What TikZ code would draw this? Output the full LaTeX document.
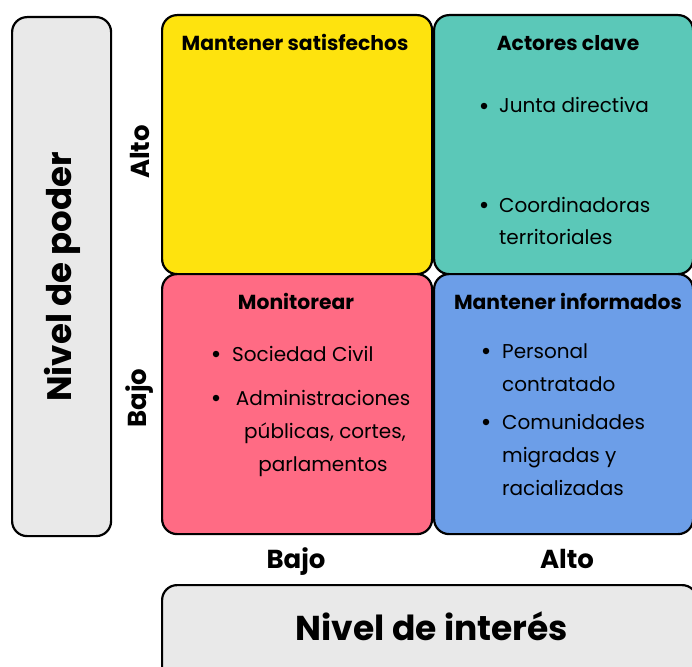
\documentclass[tikz,border=0pt]{standalone}
\usepackage{fontspec}
\setmainfont{Poppins}
\definecolor{cyellow}{HTML}{FEE30E}
\definecolor{cteal}{HTML}{5BC8B8}
\definecolor{cpink}{HTML}{FF6B84}
\definecolor{cblue}{HTML}{6C9EE8}
\definecolor{cgray}{HTML}{E9E9E9}
\begin{document}
\begin{tikzpicture}[x=1pt,y=-1pt,
  quad/.style={draw=black, line width=2.2pt, rounded corners=15pt, anchor=north west, inner sep=0pt},
  head/.style={font=\bfseries\fontsize{20.3}{24}\selectfont, anchor=base, inner sep=0pt},
  axis/.style={font=\bfseries\fontsize{26}{30}\selectfont, inner sep=0pt},
  item/.style={font=\fontsize{20}{24}\selectfont, anchor=base west, inner sep=0pt},
  citem/.style={font=\fontsize{20}{24}\selectfont, anchor=base, inner sep=0pt},
  dot/.style={circle, fill=black, inner sep=0pt, minimum size=6.5pt}]
\useasboundingbox (0,0) rectangle (692,666);
\clip (0,0) rectangle (692,666);
% boxes
\node[quad, fill=cgray, minimum width=99pt, minimum height=519pt] (leftbox) at (11,16) {};
\node[quad, fill=cgray, minimum width=535pt, minimum height=100pt] (bottombox) at (161,584) {};
\node[quad, fill=cyellow, minimum width=270pt, minimum height=259pt] (yellow) at (161,14) {};
\node[quad, fill=cteal, minimum width=259pt, minimum height=259pt] (teal) at (433,14) {};
\node[quad, fill=cpink, minimum width=270pt, minimum height=260pt] (pink) at (161,273) {};
\node[quad, fill=cblue, minimum width=259pt, minimum height=260pt] (blue) at (433,273) {};
% axis labels
\node[font=\bfseries\fontsize{34}{38}\selectfont, rotate=90, inner sep=0pt] (poder) at (62,277) {Nivel de poder};
\node[font=\bfseries\fontsize{34.5}{38}\selectfont, anchor=base, inner sep=0pt] (interes) at (432,640) {Nivel de interés};
\node[axis, rotate=90] (altoy) at (140,152) {Alto};
\node[axis, rotate=90] (bajoy) at (140,398) {Bajo};
\node[axis, anchor=base] (bajox) at (296,568) {Bajo};
\node[axis, anchor=base] (altox) at (567,568) {Alto};
% headers
\node[head] (h1) at (295,51) {Mantener satisfechos};
\node[head] (h2) at (568,51) {Actores clave};
\node[head] (h3) at (296,309) {Monitorear};
\node[head] (h4) at (568,309) {Mantener informados};
% teal items
\node[dot] (d1) at (484,106) {};
\node[item] (t1) at (499,113) {Junta directiva};
\node[dot] (d2) at (484,205) {};
\node[item] (t2) at (499,212) {Coordinadoras};
\node[item] (t3) at (499,244) {territoriales};
% pink items
\node[dot] (d3) at (216,354) {};
\node[item] (p1) at (232,361) {Sociedad Civil};
\node[dot] (d4) at (216,398) {};
\node[citem] (p2) at (323,405) {Administraciones};
\node[citem] (p3) at (325,438) {públicas, cortes,};
\node[citem] (p4) at (323,471) {parlamentos};
% blue items
\node[dot] (d5) at (486,351) {};
\node[item] (b1) at (502,358) {Personal};
\node[item] (b2) at (502,391) {contratado};
\node[dot] (d6) at (486,422) {};
\node[item] (b3) at (502,429) {Comunidades};
\node[item] (b4) at (502,462) {migradas y};
\node[item] (b5) at (502,495) {racializadas};
\end{tikzpicture}
\end{document}
